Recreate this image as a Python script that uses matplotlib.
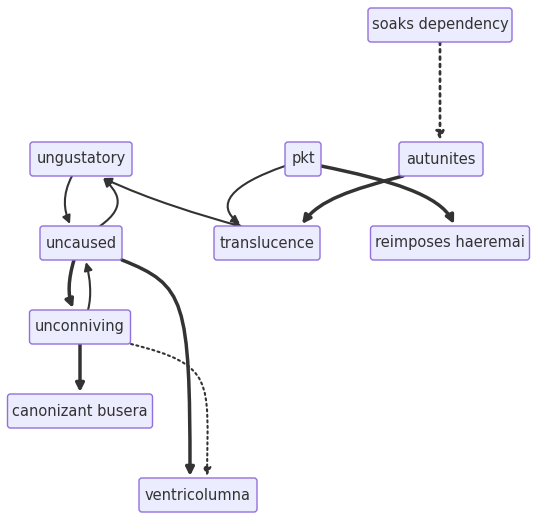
import matplotlib.pyplot as plt
from matplotlib.patches import FancyBboxPatch, FancyArrowPatch
from matplotlib.path import Path

# nodes: label -> (center x, center y, width) in pixels
nodes = {
    'soaks dependency': (440, 25, 144),
    'autunites': (441, 159, 84),
    'pkt': (303, 159, 36),
    'ungustatory': (81, 159, 102),
    'uncaused': (81, 243, 82),
    'translucence': (267, 243, 106),
    'reimposes haeremai': (450, 243, 159),
    'unconniving': (80, 327, 101),
    'canonizant busera': (80, 411, 145),
    'ventricolumna': (198, 495, 118),
}
H = 34

# edges: (points of cubic bezier path, style, width, arrowstyle)
edges = [
    ([(440, 42), (440, 90), (440, 110), (440, 140)], ':', 2.0, '-|>'),
    ([(72, 176), (62, 195), (64, 210), (70, 224)], '-', 1.5, '-|>'),
    ([(100, 226), (130, 205), (115, 190), (103, 178)], '-', 1.5, '-|>'),
    ([(103, 178), (150, 200), (200, 215), (243, 227)], '-', 1.5, '<|-|>'),
    ([(285, 166), (230, 185), (215, 205), (240, 224)], '-', 1.5, '-|>'),
    ([(321, 166), (390, 180), (440, 195), (454, 224)], '-', 2.5, '-|>'),
    ([(403, 176), (350, 190), (320, 200), (302, 224)], '-', 2.5, '-|>'),
    ([(74, 260), (68, 280), (68, 295), (73, 308)], '-', 2.5, '-|>'),
    ([(88, 310), (92, 295), (90, 278), (86, 262)], '-', 1.5, '-|>'),
    ([(80, 344), (80, 360), (80, 375), (80, 392)], '-', 2.5, '-|>'),
    ([(122, 260), (185, 285), (190, 300), (190, 476)], '-', 2.5, '-|>'),
    ([(131, 344), (215, 365), (208, 380), (207, 476)], ':', 1.5, '-|>'),
]

fig = plt.figure(figsize=(5.38, 5.2), dpi=100)
ax = fig.add_axes([0, 0, 1, 1])
ax.set_xlim(0, 538)
ax.set_ylim(520, 0)
ax.axis('off')

for pts, ls, lw, style in edges:
    path = Path(pts, [Path.MOVETO, Path.CURVE4, Path.CURVE4, Path.CURVE4])
    arr = FancyArrowPatch(path=path, arrowstyle=style, mutation_scale=12,
                          color='#333333', lw=lw, linestyle=ls, zorder=1)
    ax.add_patch(arr)

for label, (cx, cy, w) in nodes.items():
    box = FancyBboxPatch((cx - w / 2, cy - H / 2), w, H, boxstyle='round,pad=0,rounding_size=3',
                         facecolor='#ECECFF', edgecolor='#9370DB', lw=1, zorder=2)
    ax.add_patch(box)
    ax.text(cx, cy, label, ha='center', va='center', fontsize=10.5, color='#333333', zorder=3)

fig.savefig('out.png', dpi=100, facecolor='white')
